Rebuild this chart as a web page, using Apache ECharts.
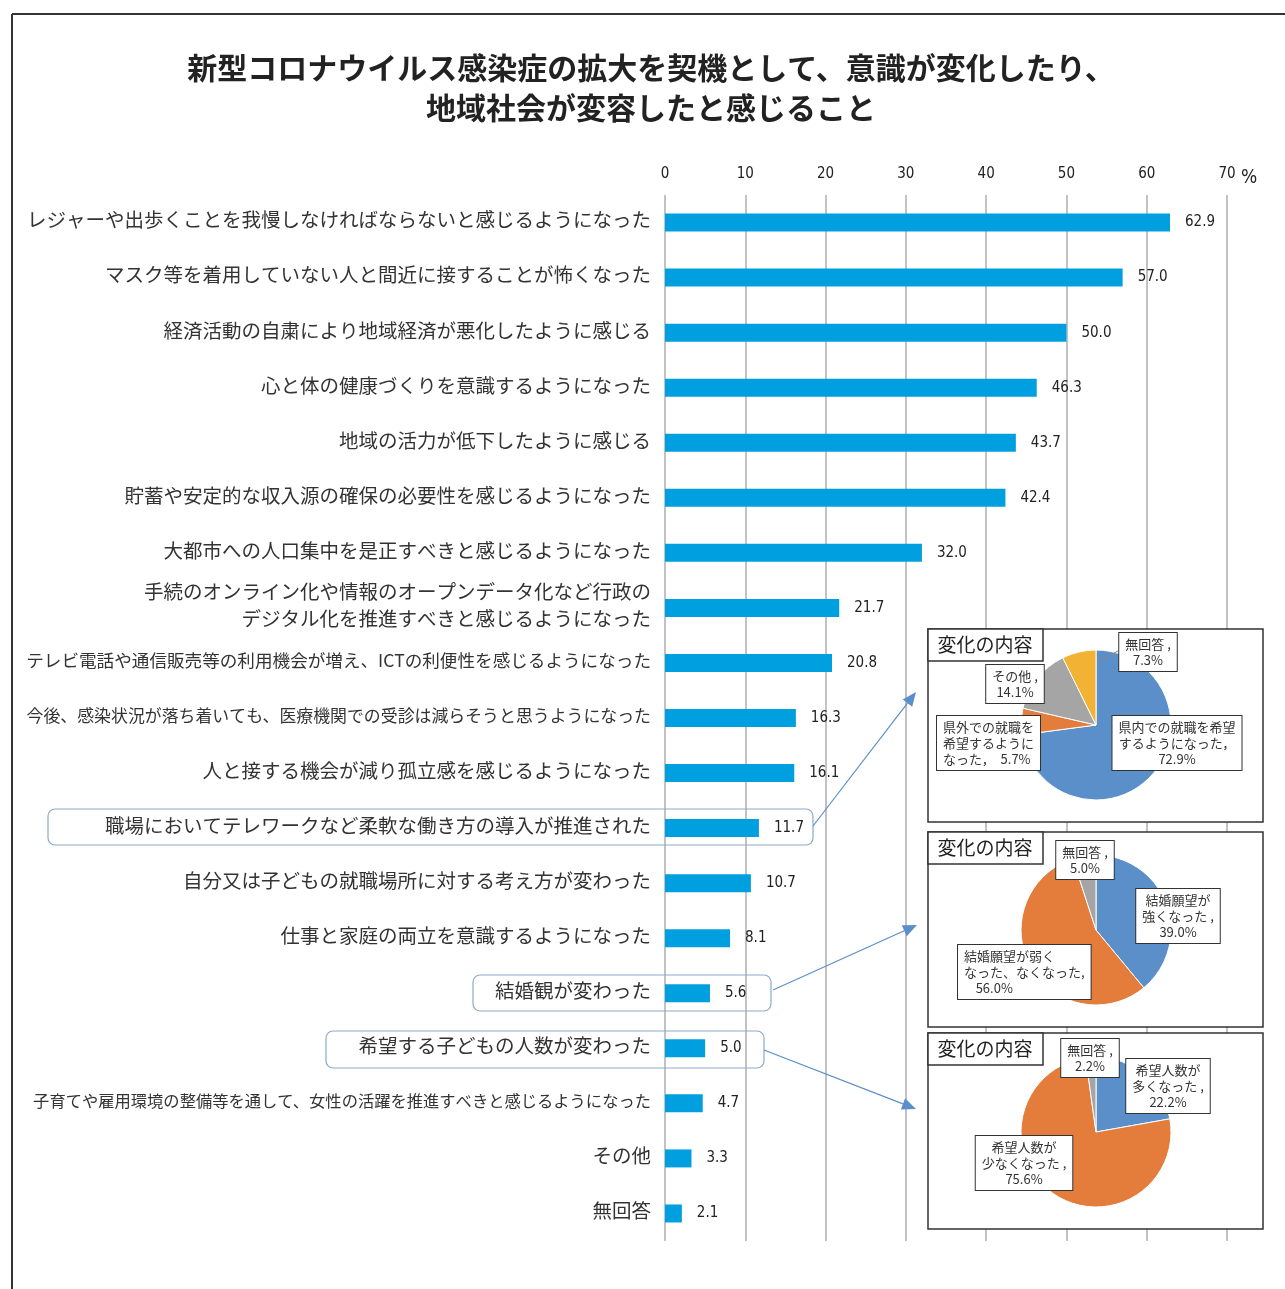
<!DOCTYPE html>
<html>
<head>
<meta charset="utf-8">
<script src="https://cdn.jsdelivr.net/npm/echarts@6/dist/echarts.min.js"></script>
<style>
  html, body { margin: 0; padding: 0; background: #fff; }
  #chart { width: 1285px; height: 1289px; }
</style>
</head>
<body>
<div id="chart"></div>
<script>
// 項目（上から順）
const categories = [
  'レジャーや出歩くことを我慢しなければならないと感じるようになった',
  'マスク等を着用していない人と間近に接することが怖くなった',
  '経済活動の自粛により地域経済が悪化したように感じる',
  '心と体の健康づくりを意識するようになった',
  '地域の活力が低下したように感じる',
  '貯蓄や安定的な収入源の確保の必要性を感じるようになった',
  '大都市への人口集中を是正すべきと感じるようになった',
  '手続のオンライン化や情報のオープンデータ化など行政の\nデジタル化を推進すべきと感じるようになった',
  'テレビ電話や通信販売等の利用機会が増え、ICTの利便性を感じるようになった',
  '今後、感染状況が落ち着いても、医療機関での受診は減らそうと思うようになった',
  '人と接する機会が減り孤立感を感じるようになった',
  '職場においてテレワークなど柔軟な働き方の導入が推進された',
  '自分又は子どもの就職場所に対する考え方が変わった',
  '仕事と家庭の両立を意識するようになった',
  '結婚観が変わった',
  '希望する子どもの人数が変わった',
  '子育てや雇用環境の整備等を通して、女性の活躍を推進すべきと感じるようになった',
  'その他',
  '無回答'
]
const values = [62.9, 57.0, 50.0, 46.3, 43.7, 42.4, 32.0, 21.7, 20.8, 16.3, 16.1, 11.7, 10.7, 8.1, 5.6, 5.0, 4.7, 3.3, 2.1]
const xTicks = [0, 10, 20, 30, 40, 50, 60, 70]

// 変化の内容（円グラフ）
const pie1Names = ['県内での就職を希望\nするようになった，\n', '県外での就職を\n希望するように\nなった，  ', 'その他 ,\n', '無回答 ,\n']
const pie1Values = [72.9, 5.7, 14.1, 7.3]
const pie2Names = ['結婚願望が\n強くなった ,\n', '結婚願望が弱く\nなった、なくなった,\n    ', '無回答 ,\n']
const pie2Values = [39.0, 56.0, 5.0]
const pie3Names = ['希望人数が\n多くなった ,\n', '希望人数が\n少なくなった ,\n', '無回答 ,\n']
const pie3Values = [22.2, 75.6, 2.2]

const pieColors1 = ['#5b8fc9', '#e47c3c', '#a5a5a5', '#f2b233']
const pieColors2 = ['#5b8fc9', '#e47c3c', '#a5a5a5']

// ラベル位置 [x, y, align]
const pie1LabelPos = [[1177, 743, 'center'], [937, 743, 'left'], [1015, 684, 'center'], [1148, 652, 'center']]
const pie2LabelPos = [[1178, 916, 'center'], [958, 972, 'left'], [1085, 860, 'center']]
const pie3LabelPos = [[1168, 1086, 'center'], [1024, 1163, 'center'], [1090, 1058, 'center']]

// 長いラベルは文字を小さく（元の図では横に詰めてある）
const labelFontSize = { 8: 17.6, 9: 16.9, 16: 16.3 }

const myChart = echarts.init(document.getElementById('chart'))

const numFont = 'DejaVu Sans Condensed'
const jpFont = 'Noto Sans CJK JP'

// 矢印
function arrow (x1, y1, x2, y2) {
  const ang = Math.atan2(y2 - y1, x2 - x1)
  const len = 14
  const w = 6
  const bx = x2 - len * Math.cos(ang)
  const by = y2 - len * Math.sin(ang)
  const px = -Math.sin(ang) * w
  const py = Math.cos(ang) * w
  return [
    { type: 'line', z: 5, shape: { x1: x1, y1: y1, x2: bx, y2: by }, style: { stroke: '#5b8fc9', lineWidth: 1.2 } },
    { type: 'polygon', z: 5, shape: { points: [[x2, y2], [bx + px, by + py], [bx - px, by - py]] }, style: { fill: '#5b8fc9' } }
  ]
}

function panel (x, y, w, h) {
  return [
    { type: 'rect', z: 10, shape: { x: x, y: y, width: w, height: h }, style: { fill: '#fff', stroke: '#333', lineWidth: 1.5 } },
    { type: 'rect', z: 30, shape: { x: x, y: y, width: 115, height: 32 }, style: { fill: '#fff', stroke: '#333', lineWidth: 1.5 } },
    { type: 'text', z: 31, x: x + 57, y: y + 16, style: { text: '変化の内容', fontSize: 19, fontFamily: jpFont, fill: '#222', align: 'center', verticalAlign: 'middle' } }
  ]
}

function highlight (x, y, w, h) {
  return { type: 'rect', z: 3, shape: { x: x, y: y, width: w, height: h, r: 7 }, style: { fill: 'none', stroke: '#8ea9c9', lineWidth: 1.2 } }
}

function pieSeries (names, vals, colors, center, pos) {
  return {
    type: 'pie',
    z: 20,
    center: center,
    radius: 75,
    startAngle: 90,
    clockwise: true,
    animation: false,
    data: names.map((n, i) => ({ name: n, value: vals[i] })),
    itemStyle: {
      color: (p) => colors[p.dataIndex],
      borderColor: '#fff',
      borderWidth: 1
    },
    label: {
      show: true,
      position: 'inside',
      formatter: (p) => p.name + p.value.toFixed(1) + '%',
      fontSize: 13,
      lineHeight: 16,
      fontFamily: jpFont,
      color: '#333',
      backgroundColor: '#fff',
      borderColor: '#333',
      borderWidth: 1,
      padding: [3, 6]
    },
    labelLine: { show: false },
    labelLayout: (p) => {
      const q = pos[p.dataIndex]
      return { x: q[0], y: q[1], align: q[2], verticalAlign: 'middle' }
    },
    emphasis: { disabled: true }
  }
}

const graphics = [
  // 外枠
  { type: 'line', shape: { x1: 12, y1: 14, x2: 1285, y2: 14 }, style: { stroke: '#333', lineWidth: 2 } },
  { type: 'line', shape: { x1: 12, y1: 14, x2: 12, y2: 1289 }, style: { stroke: '#333', lineWidth: 2 } },
  // タイトル
  {
    type: 'text', x: 651, y: 88,
    style: {
      text: '新型コロナウイルス感染症の拡大を契機として、意識が変化したり、\n地域社会が変容したと感じること',
      fontSize: 30, lineHeight: 40, fontWeight: 'bold', fontFamily: jpFont,
      fill: '#222', align: 'center', verticalAlign: 'middle'
    }
  },
  { type: 'text', x: 1249, y: 178, style: { text: '%', fontSize: 19, fontFamily: numFont, fill: '#222', align: 'center', verticalAlign: 'middle' } },
  highlight(48, 809, 765, 36),
  highlight(473, 975, 298, 36),
  highlight(326, 1031, 438, 37),
  ...arrow(813, 826, 916, 692),
  ...arrow(773, 990, 917, 925),
  ...arrow(764, 1050, 916, 1109),
  ...panel(928, 629, 335, 193),
  ...panel(928, 832, 335, 195),
  ...panel(928, 1033, 335, 196),
  { type: 'line', z: 25, shape: { x1: 1118, y1: 651, x2: 1097, y2: 662 }, style: { stroke: '#888', lineWidth: 1 } }
]

const options = {
  animation: false,
  grid: { left: 665, right: 58, top: 195, height: 1046, containLabel: false, outerBoundsMode: 'none' },
  xAxis: {
    type: 'value',
    position: 'top',
    min: xTicks[0],
    max: xTicks[xTicks.length - 1],
    interval: 10,
    axisLine: { show: false },
    axisTick: { show: false },
    axisLabel: { fontSize: 15, color: '#222', fontFamily: numFont, margin: 13 },
    splitLine: { show: true, lineStyle: { color: '#c2c2c6', width: 2 } }
  },
  yAxis: {
    type: 'category',
    inverse: true,
    data: categories,
    axisLine: { show: false },
    axisTick: { show: false },
    axisLabel: {
      fontSize: 19.5,
      lineHeight: 27,
      color: '#333',
      fontFamily: jpFont,
      margin: 14,
      padding: [0, 0, 5, 0],
      formatter: (v, i) => (labelFontSize[i] ? '{s' + i + '|' + v + '}' : v),
      rich: Object.fromEntries(Object.keys(labelFontSize).map(k => ['s' + k, { fontSize: labelFontSize[k], fontFamily: jpFont, color: '#333' }]))
    }
  },
  graphic: graphics,
  series: [
    {
      type: 'bar',
      data: values,
      barWidth: 18,
      z: 4,
      itemStyle: { color: '#009fdf' },
      label: {
        show: true,
        position: 'right',
        distance: 15,
        formatter: (p) => p.value.toFixed(1),
        fontSize: 15,
        fontFamily: numFont,
        color: '#222'
      }
    },
    pieSeries(pie1Names, pie1Values, pieColors1, [1096, 725], pie1LabelPos),
    pieSeries(pie2Names, pie2Values, pieColors2, [1096, 930], pie2LabelPos),
    pieSeries(pie3Names, pie3Values, pieColors2, [1096, 1132], pie3LabelPos)
  ]
}
myChart.setOption(options)
</script>
</body>
</html>
